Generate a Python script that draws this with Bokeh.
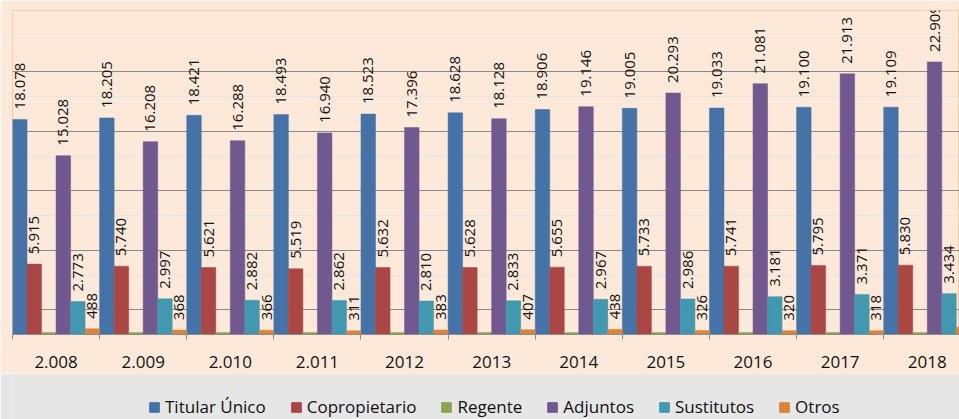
from bokeh.plotting import figure
from bokeh.models import Range1d, FixedTicker, Grid, LabelSet, ColumnDataSource, Legend, LegendItem
from bokeh.layouts import column
from bokeh.core.properties import value
from bokeh.embed import file_html
from bokeh.resources import INLINE

# ---- data ----
categories = ["2.008", "2.009", "2.010", "2.011", "2012", "2013", "2014", "2015", "2016", "2017", "2018"]
series_names = ["Titular Único", "Copropietario", "Regente", "Adjuntos", "Sustitutos", "Otros"]
titular = [18078, 18205, 18421, 18493, 18523, 18628, 18906, 19005, 19033, 19100, 19109]
copropietario = [5915, 5740, 5621, 5519, 5632, 5628, 5655, 5733, 5741, 5795, 5830]
regente = [160, 160, 160, 160, 160, 160, 160, 160, 160, 160, 160]
adjuntos = [15028, 16208, 16288, 16940, 17396, 18128, 19146, 20293, 21081, 21913, 22909]
sustitutos = [2773, 2997, 2882, 2862, 2810, 2833, 2967, 2986, 3181, 3371, 3434]
otros = [488, 368, 366, 311, 383, 407, 438, 326, 320, 318, 617]
show_labels = [True, True, False, True, True, True]

colors = ["#4572A7", "#AA4643", "#89A54E", "#71588F", "#4198AF", "#DB843D"]
all_series = [titular, copropietario, regente, adjuntos, sustitutos, otros]

PEACH = "#FDE9D9"
FONT = "Open Sans"


def fmt(v):
    return f"{v:,}".replace(",", ".")


n = len(categories)
nser = len(all_series)

p = figure(width=959, height=373, output_backend="svg", toolbar_location=None,
           x_range=Range1d(0, 10.87), y_range=Range1d(0, 27230),
           y_axis_location=None,
           min_border_left=12, min_border_right=0, min_border_top=10, min_border_bottom=39,
           background_fill_color=PEACH, border_fill_color=PEACH,
           outline_line_color="#EFCDB5")
p.xgrid.visible = False

grid = Grid(dimension=1, ticker=FixedTicker(ticks=[2100, 7100, 12100, 17100, 22100]),
            grid_line_color="#8A8A8A", grid_line_width=1, level="underlay")
p.add_layout(grid)

centers = [i + 0.5 for i in range(n)]
ax = p.xaxis[0]
ax.ticker = FixedTicker(ticks=centers, minor_ticks=list(range(n + 1)))
ax.major_label_overrides = {c: lab for c, lab in zip(centers, categories)}
ax.axis_line_color = "#8C8C8C"
ax.major_tick_line_color = None
ax.minor_tick_line_color = "#8C8C8C"
ax.minor_tick_in = 0
ax.minor_tick_out = 5
ax.major_label_text_font = FONT
ax.major_label_text_font_size = "17px"
ax.major_label_text_color = "#111111"
ax.major_label_standoff = 15

bw = 1.0 / nser
for k, (vals, col) in enumerate(zip(all_series, colors)):
    src = ColumnDataSource(dict(
        x=[i + (k + 0.5) * bw for i in range(n)],
        top=vals,
        label=[fmt(v) for v in vals],
    ))
    p.vbar(x="x", top="top", width=bw, source=src, fill_color=col, line_color=col, line_width=0.5)
    if show_labels[k]:
        p.add_layout(LabelSet(x="x", y="top", text="label", source=src,
                              angle=90, angle_units="deg",
                              text_align="left", text_baseline="middle",
                              y_offset=10,
                              text_font=value(FONT), text_font_size="15px",
                              text_color="#111111"))

# ---- legend strip ----
p2 = figure(width=959, height=46, output_backend="svg", toolbar_location=None,
            x_range=Range1d(0, 1), y_range=Range1d(0, 1),
            x_axis_location=None, y_axis_location=None, min_border=0,
            background_fill_color="#E6E6E6", border_fill_color="#E6E6E6",
            outline_line_color=None)
p2.xgrid.visible = False
p2.ygrid.visible = False
items = []
for name, col in zip(series_names, colors):
    # legend key only: one bar placed outside the visible range
    r = p2.vbar(x=[-5], top=[-5], bottom=[-6], width=0.1, fill_color=col, line_color=col)
    items.append(LegendItem(label=name, renderers=[r]))
leg = Legend(items=items, orientation="horizontal", location=(136, 1),
             margin=0, padding=0, border_line_color=None, background_fill_alpha=0,
             label_text_font=FONT, label_text_font_size="17px", label_text_color="#111111",
             label_height=16, glyph_width=12, glyph_height=12, label_standoff=5, spacing=24)
p2.add_layout(leg)

layout = column(p, p2, spacing=0)
open("out.html", "w").write(file_html(layout, INLINE))
